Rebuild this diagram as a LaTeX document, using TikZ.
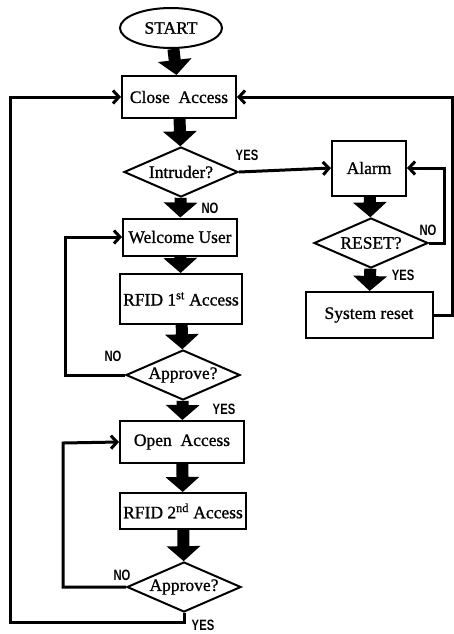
\documentclass[tikz,border=0pt]{standalone}
\usepackage{fontspec}
\setmainfont{Liberation Serif}[FakeBold=1]
\newfontfamily\tagfont[FakeStretch=0.75]{Liberation Sans}
\usetikzlibrary{shapes.geometric,arrows.meta}

\begin{document}
\begin{tikzpicture}[x=1pt, y=-1pt,
    box/.style={rectangle, draw, line width=2pt, font=\fontsize{17.5}{19}\selectfont, inner sep=0pt},
    test/.style={diamond, draw, line width=2pt, aspect=2.3, font=\fontsize{17.5}{19}\selectfont, inner sep=0pt, minimum width=114pt, minimum height=50pt},
    tag/.style={font=\tagfont\bfseries\fontsize{15}{15}\selectfont, inner sep=0pt},
    line/.style={draw, line width=3pt, -{Straight Barb[length=6pt,width=13pt]}},
    bigarrow/.style={draw, line width=12pt, -{Triangle[width=33pt,length=15pt]}}]
        \useasboundingbox (0,0) rectangle (454,634);

        % Nodes
        \node[ellipse, draw, line width=2pt, minimum width=102pt, minimum height=40pt, font=\fontsize{17.5}{19}\selectfont] at (171, 28)  (start)    {START};
        \node[box, minimum width=114pt, minimum height=42pt] at (179, 97)  (close)    {Close~ Access};
        \node[test] at (181, 172)  (intr)    {Intruder?};
        \node[box, minimum width=114pt, minimum height=37pt] at (180, 237)  (welcome)    {Welcome User};
        \node[box, minimum width=122pt, minimum height=50pt] at (181, 299)  (rfid1)    {RFID 1\textsuperscript{st} Access};
        \node[test] at (183, 375)  (app1)    {Approve?};
        \node[box, minimum width=124pt, minimum height=42pt] at (182, 442)  (open)    {Open~ Access};
        \node[box, minimum width=126pt, minimum height=36pt] at (183, 511)  (rfid2)    {RFID 2\textsuperscript{nd} Access};
        \node[test] at (184, 587)  (app2)    {Approve?};

        \node[box, minimum width=74pt, minimum height=55pt] at (369, 168)  (alarm)    {Alarm};
        \node[test] at (371, 243)  (reset)    {RESET?};
        \node[box, minimum width=127pt, minimum height=46pt] at (369, 315)  (sys)    {System reset};

        % Labels
        \node[tag] at (247, 155)  (yes1)  {YES};
        \node[tag] at (210, 208)  (no1)   {NO};
        \node[tag] at (113, 356)  (no2)   {NO};
        \node[tag] at (224, 409)  (yes2)  {YES};
        \node[tag] at (122, 575)  (no3)   {NO};
        \node[tag] at (203, 625)  (yes3)  {YES};
        \node[tag] at (428, 230)  (no4)   {NO};
        \node[tag] at (403, 275)  (yes4)  {YES};

        % Corners
        \coordinate (c1) at (65, 237);
        \coordinate (c2) at (63, 443);
        \coordinate (c3) at (10, 622);
        \coordinate (c4) at (444, 168);
        \coordinate (c5) at (452, 97);

        % Main flow
        \draw[bigarrow]  (start) -- (close);
        \draw[bigarrow]  (close) -- (intr);
        \draw[bigarrow]  (intr) -- (welcome);
        \draw[bigarrow]  (welcome) -- (rfid1);
        \draw[bigarrow]  (rfid1) -- (app1);
        \draw[bigarrow]  (app1) -- (open);
        \draw[bigarrow]  (open) -- (rfid2);
        \draw[bigarrow]  (rfid2) -- (app2);
        \draw[bigarrow]  (alarm) -- (reset);
        \draw[bigarrow]  (reset) -- (sys);

        % Loops
        \draw[line]  (intr.east) -- (alarm.west);
        \draw[line]  (reset.east) -| (c4) -- (alarm.east);
        \draw[line]  (sys.east) -| (c5) -- (close.east);
        \draw[line]  (app1.west) -| (c1) -- (welcome.west);
        \draw[line]  (app2.west) -| (c2) -- (open.west);
        \draw[line]  (app2.south) |- (c3) |- (close.west);
    \end{tikzpicture}
\end{document}
